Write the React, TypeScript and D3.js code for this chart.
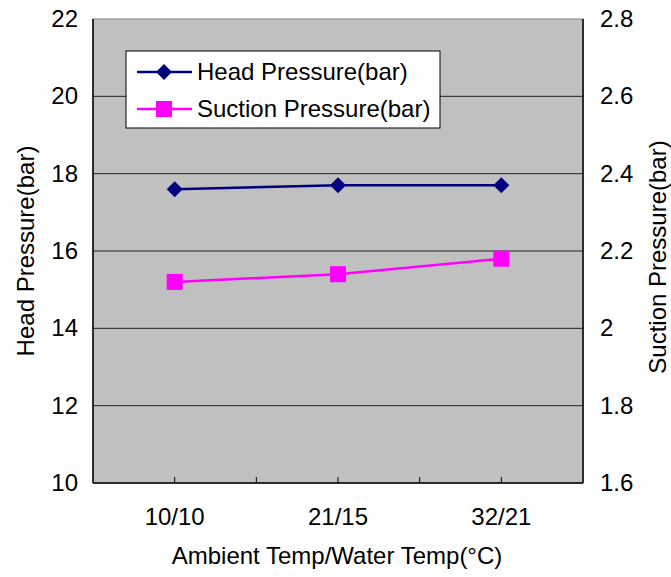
import React from "react";
import * as d3 from "d3";

const categories = ["10/10", "21/15", "32/21"];
const headPressure = [17.6, 17.7, 17.7];
const suctionPressure = [2.12, 2.14, 2.18];
const leftTicks = [10, 12, 14, 16, 18, 20, 22];
const rightTicks = [1.6, 1.8, 2.0, 2.2, 2.4, 2.6, 2.8];

const W = 671;
const H = 577;
const M = { left: 93, top: 19, right: 583, bottom: 483 };
const FONT = "'Liberation Sans', Arial, sans-serif";
const FS = 24;

export default function App() {
  // category axis: 6 slots, categories at odd positions
  const x = d3.scaleLinear().domain([0, 6]).range([M.left, M.right]);
  const catX = (i: number) => x(i * 2 + 1);
  const yL = d3.scaleLinear().domain([10, 22]).range([M.bottom, M.top]);
  const yR = d3.scaleLinear().domain([1.6, 2.8]).range([M.bottom, M.top]);

  const headLine = d3
    .line<number>()
    .x((_, i) => catX(i))
    .y((d) => yL(d));
  const sucLine = d3
    .line<number>()
    .x((_, i) => catX(i))
    .y((d) => yR(d));

  const xTicks = d3.range(1, 6);
  const diamond = (cx: number, cy: number, r: number) =>
    `M${cx},${cy - r}L${cx + r},${cy}L${cx},${cy + r}L${cx - r},${cy}Z`;

  const fmtR = (v: number) => (Math.abs(v - 2) < 1e-9 ? "2" : d3.format(".1f")(v));

  return (
    <svg width={W} height={H} style={{ display: "block", position: "absolute", left: 0, top: 0 }} fontFamily={FONT}>
      <rect x={0} y={0} width={W} height={H} fill="#fff" />
      <rect
        x={M.left}
        y={M.top}
        width={M.right - M.left}
        height={M.bottom - M.top}
        fill="#c0c0c0"
        stroke="#808080"
        strokeWidth={1}
      />
      {leftTicks.slice(1, -1).map((t) => (
        <line key={t} x1={M.left} x2={M.right} y1={yL(t)} y2={yL(t)} stroke="#222" strokeWidth={1} />
      ))}
      {/* axes */}
      <line x1={M.left} x2={M.left} y1={M.top} y2={M.bottom} stroke="#000" strokeWidth={1.5} />
      <line x1={M.right} x2={M.right} y1={M.top} y2={M.bottom} stroke="#000" strokeWidth={1.5} />
      <line x1={M.left} x2={M.right} y1={M.bottom} y2={M.bottom} stroke="#000" strokeWidth={1.5} />
      {xTicks.map((t) => (
        <line key={t} x1={x(t)} x2={x(t)} y1={M.bottom} y2={M.bottom - 6} stroke="#000" strokeWidth={1} />
      ))}

      {/* series */}
      <path d={headLine(headPressure) || ""} fill="none" stroke="#000080" strokeWidth={2.5} />
      {headPressure.map((v, i) => (
        <path key={i} d={diamond(catX(i), yL(v), 8)} fill="#000080" />
      ))}
      <path d={sucLine(suctionPressure) || ""} fill="none" stroke="#ff00ff" strokeWidth={2.5} />
      {suctionPressure.map((v, i) => (
        <rect key={i} x={catX(i) - 8} y={yR(v) - 8} width={16} height={16} fill="#ff00ff" />
      ))}

      {/* tick labels */}
      {leftTicks.map((t) => (
        <text key={t} x={78} y={yL(t) + 8} textAnchor="end" fontSize={FS} fill="#000">
          {t}
        </text>
      ))}
      {rightTicks.map((t) => (
        <text key={t} x={600} y={yR(t) + 8} textAnchor="start" fontSize={FS} fill="#000">
          {fmtR(t)}
        </text>
      ))}
      {categories.map((c, i) => (
        <text key={c} x={catX(i)} y={525} textAnchor="middle" fontSize={FS} fill="#000">
          {c}
        </text>
      ))}

      {/* axis titles */}
      <text x={337} y={564} textAnchor="middle" fontSize={FS} fill="#000">
        Ambient Temp/Water Temp(°C)
      </text>
      <text transform={`translate(34,${(M.top + M.bottom) / 2}) rotate(-90)`} textAnchor="middle" fontSize={FS} fill="#000">
        Head Pressure(bar)
      </text>
      <text transform={`translate(666,${(M.top + M.bottom) / 2 + 6}) rotate(-90)`} textAnchor="middle" fontSize={FS} fill="#000">
        Suction Pressure(bar)
      </text>

      {/* legend */}
      <rect x={126} y={51} width={314} height={77} fill="#fff" stroke="#000" strokeWidth={1} />
      <line x1={137} x2={192} y1={72} y2={72} stroke="#000080" strokeWidth={2.5} />
      <path d={diamond(164, 72, 8)} fill="#000080" />
      <text x={197} y={80} fontSize={FS} fill="#000">
        Head Pressure(bar)
      </text>
      <line x1={137} x2={192} y1={109} y2={109} stroke="#ff00ff" strokeWidth={2.5} />
      <rect x={156} y={101} width={16} height={16} fill="#ff00ff" />
      <text x={197} y={117} fontSize={FS} fill="#000">
        Suction Pressure(bar)
      </text>
    </svg>
  );
}
